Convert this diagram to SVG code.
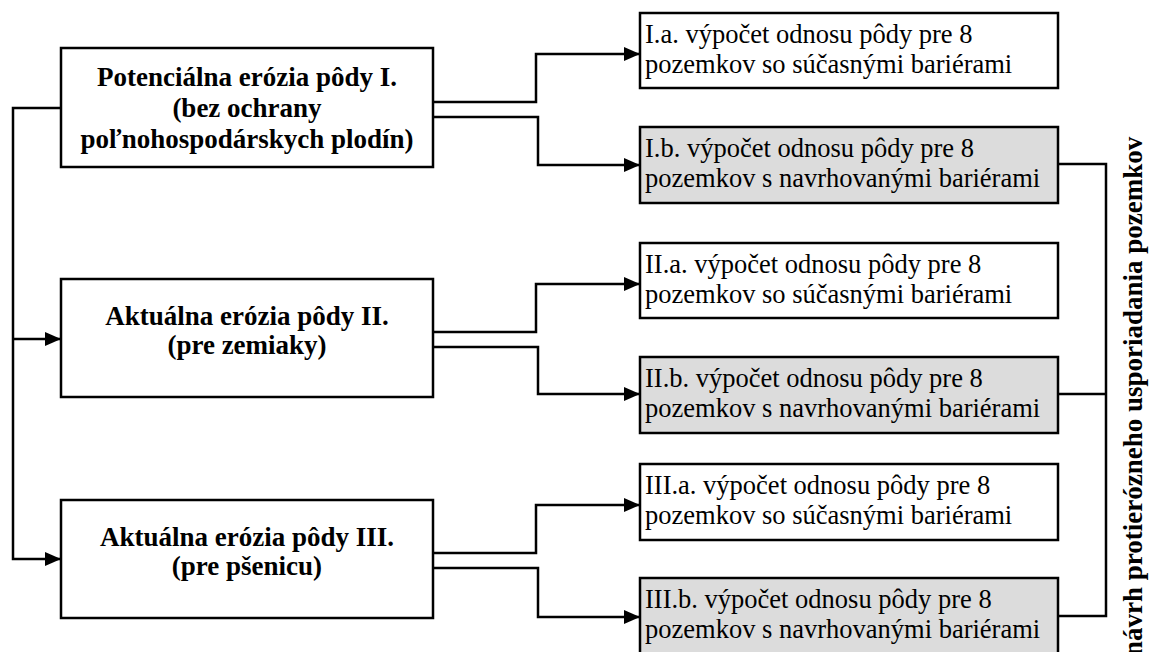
<svg xmlns="http://www.w3.org/2000/svg" width="1149" height="652" viewBox="0 0 1149 652">
<style>
.box{stroke:#000;stroke-width:2.5;fill:#fff}
.grey{fill:#dcdcdc}
.b{font-family:"Liberation Serif","Times New Roman",serif;font-weight:bold;font-size:27px;text-anchor:middle;fill:#000}
.r{font-family:"Liberation Serif","Times New Roman",serif;font-size:26.5px;fill:#000}
.ln{fill:none;stroke:#000;stroke-width:2.5}
</style>
<defs>
<marker id="ah" markerWidth="16" markerHeight="14" refX="16" refY="7" orient="auto" markerUnits="userSpaceOnUse">
<path d="M0,0 L16,7 L0,14 Z" fill="#000"/>
</marker>
</defs>
<rect width="1149" height="652" fill="#fff"/>
<g id="connectors">
<path class="ln" d="M61,108 H13 V559 H61" marker-end="url(#ah)"/>
<path class="ln" d="M13,339 H61" marker-end="url(#ah)"/>
<path class="ln" d="M433,102 H536 V54 H640" marker-end="url(#ah)"/>
<path class="ln" d="M433,117 H538 V165 H640" marker-end="url(#ah)"/>
<path class="ln" d="M433,332 H536 V284 H640" marker-end="url(#ah)"/>
<path class="ln" d="M433,347 H538 V394 H640" marker-end="url(#ah)"/>
<path class="ln" d="M433,553 H536 V505 H640" marker-end="url(#ah)"/>
<path class="ln" d="M433,568 H538 V617 H640" marker-end="url(#ah)"/>
<path class="ln" d="M1058,164 H1106 V616 H1058 M1058,394 H1106"/>
</g>
<g id="n1"><rect class="box" x="61" y="48" width="372" height="119"/>
<text class="b" x="247" y="86">Potenciálna erózia pôdy I.</text>
<text class="b" x="247" y="117">(bez ochrany</text>
<text class="b" x="247" y="148">poľnohospodárskych plodín)</text></g>
<g id="n2"><rect class="box" x="61" y="279" width="372" height="118"/>
<text class="b" x="247" y="325">Aktuálna erózia pôdy II.</text>
<text class="b" x="247" y="354">(pre zemiaky)</text></g>
<g id="n3"><rect class="box" x="61" y="500" width="372" height="118"/>
<text class="b" x="247" y="546">Aktuálna erózia pôdy III.</text>
<text class="b" x="247" y="575">(pre pšenicu)</text></g>
<g id="n1a"><rect class="box" x="640" y="13" width="418" height="75"/>
<text class="r" x="645" y="43">I.a. výpočet odnosu pôdy pre 8</text>
<text class="r" x="645" y="73">pozemkov so súčasnými bariérami</text></g>
<g id="n1b"><rect class="box grey" x="640" y="127" width="418" height="76"/>
<text class="r" x="645" y="157">I.b. výpočet odnosu pôdy pre 8</text>
<text class="r" x="645" y="187">pozemkov s navrhovanými bariérami</text></g>
<g id="n2a"><rect class="box" x="640" y="243" width="418" height="75"/>
<text class="r" x="645" y="273">II.a. výpočet odnosu pôdy pre 8</text>
<text class="r" x="645" y="303">pozemkov so súčasnými bariérami</text></g>
<g id="n2b"><rect class="box grey" x="640" y="357" width="418" height="76"/>
<text class="r" x="645" y="387">II.b. výpočet odnosu pôdy pre 8</text>
<text class="r" x="645" y="417">pozemkov s navrhovanými bariérami</text></g>
<g id="n3a"><rect class="box" x="640" y="464" width="418" height="76"/>
<text class="r" x="645" y="494">III.a. výpočet odnosu pôdy pre 8</text>
<text class="r" x="645" y="524">pozemkov so súčasnými bariérami</text></g>
<g id="n3b"><rect class="box grey" x="640" y="578" width="418" height="78"/>
<text class="r" x="645" y="608">III.b. výpočet odnosu pôdy pre 8</text>
<text class="r" x="645" y="638">pozemkov s navrhovanými bariérami</text></g>
<g id="side"><text class="b" style="text-anchor:start" font-size="28" transform="translate(1142,656) rotate(-90)">návrh protierózneho usporiadania pozemkov</text></g>
</svg>
